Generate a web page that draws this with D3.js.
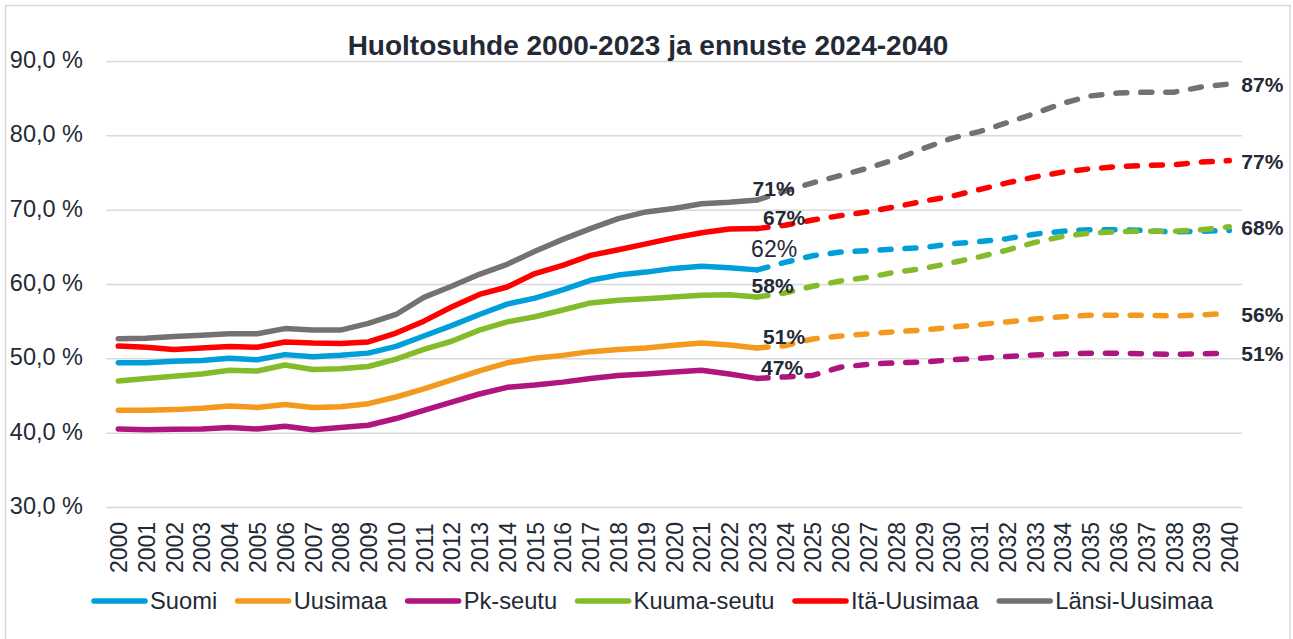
<!DOCTYPE html>
<html>
<head>
<meta charset="utf-8">
<script src="https://cdn.jsdelivr.net/npm/d3@7"></script>
<style>
  body { margin: 0; background: #fff; }
  svg { font-family: "Liberation Sans", Arial, sans-serif; }
</style>
</head>
<body>
<div class="container"></div>
<script>
// categories
const years = [2000, 2001, 2002, 2003, 2004, 2005, 2006, 2007, 2008, 2009, 2010,
  2011, 2012, 2013, 2014, 2015, 2016, 2017, 2018, 2019, 2020, 2021, 2022, 2023,
  2024, 2025, 2026, 2027, 2028, 2029, 2030, 2031, 2032, 2033, 2034, 2035, 2036,
  2037, 2038, 2039, 2040];
const lastActual = 2023;

// huoltosuhde, % (2000-2023 toteutunut, 2024-2040 ennuste)
const suomi = [49.4, 49.4, 49.6, 49.7, 50.0, 49.8, 50.5, 50.2, 50.4, 50.7, 51.6,
  53.0, 54.4, 55.9, 57.3, 58.1, 59.2, 60.5, 61.2, 61.6, 62.1, 62.4, 62.2, 61.9,
  62.9, 63.8, 64.3, 64.5, 64.7, 64.9, 65.4, 65.7, 66.1, 66.7, 67.1, 67.3, 67.3,
  67.2, 67.0, 67.1, 67.2];
const uusimaa = [43.0, 43.0, 43.1, 43.3, 43.6, 43.4, 43.8, 43.4, 43.5, 43.9, 44.8,
  45.9, 47.1, 48.3, 49.4, 50.0, 50.4, 50.9, 51.2, 51.4, 51.75, 52.05, 51.8, 51.4,
  51.7, 52.6, 53.0, 53.3, 53.6, 53.8, 54.2, 54.55, 54.9, 55.3, 55.6, 55.8, 55.8,
  55.8, 55.7, 55.85, 56.05];
const pkSeutu = [40.5, 40.4, 40.45, 40.5, 40.7, 40.5, 40.85, 40.4, 40.7, 41.0, 41.9,
  43.0, 44.1, 45.2, 46.1, 46.4, 46.8, 47.3, 47.7, 47.9, 48.15, 48.4, 47.9, 47.3,
  47.5, 47.7, 48.8, 49.2, 49.4, 49.5, 49.8, 50.0, 50.25, 50.45, 50.6, 50.7, 50.7,
  50.6, 50.55, 50.6, 50.7];
const kuumaSeutu = [46.95, 47.3, 47.6, 47.9, 48.4, 48.3, 49.1, 48.5, 48.6, 48.9, 49.9,
  51.2, 52.3, 53.8, 54.9, 55.6, 56.5, 57.45, 57.8, 58.0, 58.25, 58.5, 58.55, 58.25,
  58.8, 59.7, 60.4, 60.9, 61.6, 62.1, 62.85, 63.65, 64.55, 65.6, 66.4, 66.85, 67.05,
  67.1, 67.1, 67.3, 67.7];
const itaUusimaa = [51.65, 51.5, 51.2, 51.4, 51.6, 51.5, 52.2, 52.05, 52.0, 52.2, 53.4,
  55.0, 56.9, 58.6, 59.6, 61.4, 62.5, 63.85, 64.6, 65.4, 66.2, 66.9, 67.4, 67.45,
  67.9, 68.6, 69.2, 69.7, 70.4, 71.15, 71.8, 72.7, 73.6, 74.4, 75.05, 75.5, 75.8,
  75.95, 76.05, 76.4, 76.6];
const lansiUusimaa = [52.65, 52.7, 52.95, 53.1, 53.3, 53.3, 54.0, 53.8, 53.8, 54.7, 55.9,
  58.2, 59.7, 61.3, 62.65, 64.4, 66.0, 67.45, 68.8, 69.7, 70.15, 70.8, 71.0, 71.3,
  72.5, 73.6, 74.6, 75.6, 76.8, 78.25, 79.6, 80.5, 81.7, 82.95, 84.3, 85.3, 85.7,
  85.8, 85.8, 86.5, 86.9];

const seriesNames = ["Suomi", "Uusimaa", "Pk-seutu", "Kuuma-seutu", "Itä-Uusimaa", "Länsi-Uusimaa"];
const seriesValues = [suomi, uusimaa, pkSeutu, kuumaSeutu, itaUusimaa, lansiUusimaa];
const colors = ["#009fda", "#f39a1e", "#b0157f", "#84bb2b", "#ff0000", "#767171"];

const yTicks = [30, 40, 50, 60, 70, 80, 90];
const endLabelSeries = ["Länsi-Uusimaa", "Itä-Uusimaa", "Kuuma-seutu", "Uusimaa", "Pk-seutu"];

const textColor = "#242a35";
const width = 1293, height = 639;

// label offsets at 2023 (hand placed like in the original)
const midLabelPos = {
  "Suomi": { dx: 17, dy: -21, bold: false },
  "Uusimaa": { dx: 27, dy: -11 },
  "Pk-seutu": { dx: 25, dy: -11 },
  "Kuuma-seutu": { dx: 15.5, dy: -11 },
  "Itä-Uusimaa": { dx: 27, dy: -11 },
  "Länsi-Uusimaa": { dx: 16.5, dy: -11 },
};

const svg = d3
  .select(".container")
  .append("svg")
  .attr("width", width)
  .attr("height", height);

// frame
svg
  .append("rect")
  .attr("x", 5.5)
  .attr("y", 5.5)
  .attr("width", 1284.5)
  .attr("height", 650)
  .attr("fill", "none")
  .attr("stroke", "#d9d9d9")
  .attr("stroke-width", 1.5);

const plotLeft = 106, plotRight = 1242;

const x = d3.scalePoint().domain(years).range([118.3, 1229.3]);
const y = d3.scaleLinear().domain([30, 90]).range([507, 61]);

// y axis + gridlines
const yAxis = svg
  .append("g")
  .attr("transform", `translate(${plotLeft},0)`)
  .call(
    d3.axisLeft(y)
      .tickValues(yTicks)
      .tickSize(-(plotRight - plotLeft))
      .tickPadding(23)
      .tickFormat((d) => d3.format(".1f")(d).replace(".", ",") + " %")
  );
yAxis.select(".domain").remove();
yAxis.selectAll("line").attr("stroke", "#d9d9d9").attr("stroke-width", 1.5);
yAxis.selectAll("text")
  .style("font-size", "23.5px")
  .attr("fill", textColor)
  .attr("dy", "0.28em");

// x axis labels (rotated)
const xAxis = svg
  .append("g")
  .attr("transform", "translate(0,573)")
  .call(d3.axisBottom(x).tickSize(0));
xAxis.select(".domain").remove();
xAxis.selectAll("text")
  .attr("x", 0)
  .attr("y", 0)
  .attr("dy", "0.36em")
  .attr("transform", "rotate(-90)")
  .style("text-anchor", "start")
  .style("font-size", "23px")
  .attr("fill", textColor);

// title
svg
  .append("text")
  .attr("x", 648)
  .attr("y", 55)
  .attr("text-anchor", "middle")
  .style("font-size", "28px")
  .style("font-weight", "bold")
  .attr("fill", textColor)
  .text("Huoltosuhde 2000-2023 ja ennuste 2024-2040");

const line = d3
  .line()
  .x((d) => x(d.year))
  .y((d) => y(d.value));

const series = seriesNames.map((name, i) => ({
  name,
  color: colors[i],
  points: years.map((yr, j) => ({ year: yr, value: seriesValues[i][j] })),
}));

// solid history
series.forEach((s) => {
  svg
    .append("path")
    .datum(s.points.filter((d) => d.year <= lastActual))
    .attr("d", line)
    .attr("fill", "none")
    .attr("stroke", s.color)
    .attr("stroke-width", 5.5)
    .attr("stroke-linecap", "round")
    .attr("stroke-linejoin", "round");
});

// dashed forecast
series.forEach((s) => {
  svg
    .append("path")
    .datum(s.points.filter((d) => d.year >= lastActual))
    .attr("d", line)
    .attr("fill", "none")
    .attr("stroke", s.color)
    .attr("stroke-width", 5.5)
    .attr("stroke-dasharray", "11,14")
    .attr("stroke-linecap", "round")
    .attr("stroke-linejoin", "round");
});

// labels at 2023
series.forEach((s) => {
  const p = s.points.find((d) => d.year === lastActual);
  const pos = midLabelPos[s.name];
  const isBold = pos.bold !== false;
  svg
    .append("text")
    .attr("x", x(p.year) + pos.dx)
    .attr("y", y(p.value) + pos.dy)
    .attr("dy", "0.35em")
    .attr("text-anchor", "middle")
    .style("font-size", isBold ? "21px" : "23px")
    .style("font-weight", isBold ? "bold" : "normal")
    .attr("fill", textColor)
    .text(Math.round(p.value) + "%");
});

// labels at 2040
series
  .filter((s) => endLabelSeries.includes(s.name))
  .forEach((s) => {
    const p = s.points[s.points.length - 1];
    svg
      .append("text")
      .attr("x", x(p.year) + 12)
      .attr("y", y(p.value) + 1)
      .attr("dy", "0.35em")
      .style("font-size", "21px")
      .style("font-weight", "bold")
      .attr("fill", textColor)
      .text(Math.round(p.value) + "%");
  });

// legend
const legend = svg.append("g");
let lx = 92;
series.forEach((s) => {
  legend
    .append("line")
    .attr("x1", lx + 2)
    .attr("x2", lx + 53)
    .attr("y1", 601)
    .attr("y2", 601)
    .attr("stroke", s.color)
    .attr("stroke-width", 5.5)
    .attr("stroke-linecap", "round");
  const t = legend
    .append("text")
    .attr("x", lx + 58)
    .attr("y", 601)
    .attr("dy", "0.35em")
    .style("font-size", "23.7px")
    .attr("fill", textColor)
    .text(s.name);
  lx = lx + 58 + t.node().getComputedTextLength() + 18.5;
});
</script>
</body>
</html>
